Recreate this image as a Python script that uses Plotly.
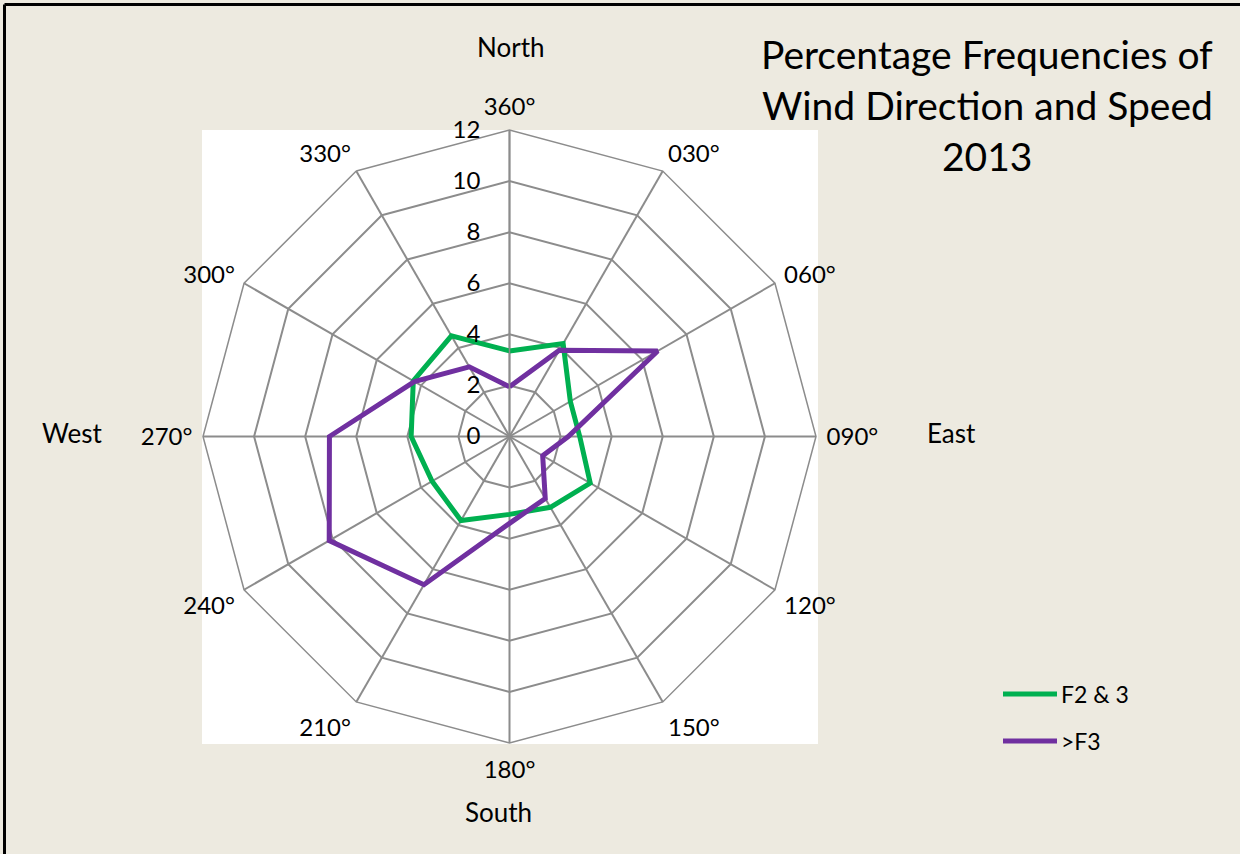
import plotly.graph_objects as go

# --- data ---
directions = ["360°", "030°", "060°", "090°", "120°", "150°",
              "180°", "210°", "240°", "270°", "300°", "330°"]
f2_and_3 = [3.35, 4.2, 2.75, 2.75, 3.65, 3.2, 3.05, 3.8, 3.5, 3.85, 4.35, 4.55]
above_f3 = [1.95, 3.9, 6.7, 2.3, 1.5, 2.8, 3.4, 6.7, 8.15, 7.05, 4.3, 3.15]
radial_ticks = [0, 2, 4, 6, 8, 10, 12]
series_names = ["F2 & 3", ">F3"]
title_lines = ["Percentage Frequencies of", "Wind Direction and Speed", "2013"]
compass = ["North", "East", "South", "West"]

W, H = 1240, 854
BG = "#EDEAE0"
GRID = "#8C8C8C"
GREEN = "#00B050"
PURPLE = "#7030A0"
FONT = "Lato, Carlito, 'Open Sans', sans-serif"

# polar centre / radius in pixels
CX, CY, R = 509.5, 436.5, 306.5


def px(x):
    return x / W


def py(y):
    return 1 - y / H


fig = go.Figure()

series = [(series_names[0], f2_and_3, GREEN), (series_names[1], above_f3, PURPLE)]
for name, vals, color in series:
    fig.add_trace(go.Scatterpolar(
        r=vals + vals[:1],
        theta=directions + directions[:1],
        mode="lines",
        name=name,
        line=dict(color=color, width=5),
        showlegend=False,
        hoverinfo="name+theta+r"
    ))

# compass words around the rose
compass_pos = {
    "North": (510, 47),
    "East": (951, 433),
    "South": (498, 812),
    "West": (72, 433),
}
annotations = []
for word in compass:
    x, y = compass_pos[word]
    annotations.append(dict(
        text=word, x=px(x), y=py(y), xref="paper", yref="paper",
        showarrow=False, xanchor="center", yanchor="middle",
        font=dict(size=26, color="black", family=FONT)
    ))

# title, one annotation per line to match the loose spacing
for i, line in enumerate(title_lines):
    annotations.append(dict(
        text=line, x=px(987), y=py(54 + i * 51), xref="paper", yref="paper",
        showarrow=False, xanchor="center", yanchor="middle",
        font=dict(size=39, color="black", family=FONT)
    ))

shapes = [
    # white plot area behind the rose
    dict(type="rect", xref="paper", yref="paper", layer="below",
         x0=px(202), x1=px(818), y0=py(744), y1=py(130),
         fillcolor="white", line=dict(width=0)),
    # chart frame (left and top edges visible)
    dict(type="line", xref="paper", yref="paper",
         x0=px(4.5), x1=px(4.5), y0=0, y1=py(4.5),
         line=dict(color="black", width=3)),
    dict(type="line", xref="paper", yref="paper",
         x0=px(4.5), x1=1, y0=py(4.5), y1=py(4.5),
         line=dict(color="black", width=3)),
]

# legend drawn Excel-style with long line keys
for i, (name, vals, color) in enumerate(series):
    y = 694 + i * 47
    shapes.append(dict(
        type="line", xref="paper", yref="paper",
        x0=px(1003), x1=px(1057), y0=py(y), y1=py(y),
        line=dict(color=color, width=5)
    ))
    annotations.append(dict(
        text=name, x=px(1059), y=py(y), xref="paper", yref="paper",
        showarrow=False, xanchor="left", yanchor="middle",
        font=dict(size=23, color="black", family=FONT)
    ))

fig.update_layout(
    width=W,
    height=H,
    paper_bgcolor=BG,
    plot_bgcolor=BG,
    margin=dict(l=0, r=0, t=0, b=0),
    font=dict(family=FONT, color="black"),
    polar=dict(
        domain=dict(x=[px(CX - R), px(CX + R)], y=[py(CY + R), py(CY - R)]),
        bgcolor="white",
        gridshape="linear",
        angularaxis=dict(
            type="category",
            categoryorder="array",
            categoryarray=directions,
            rotation=90,
            direction="clockwise",
            showline=True,
            linecolor=GRID,
            linewidth=1.5,
            gridcolor=GRID,
            gridwidth=1.5,
            ticks="outside",
            ticklen=5,
            tickcolor="rgba(0,0,0,0)",
            tickfont=dict(size=24, color="black", family=FONT)
        ),
        radialaxis=dict(
            range=[0, 12],
            tickvals=radial_ticks,
            angle=90,
            side="counterclockwise",
            showline=True,
            linecolor=GRID,
            linewidth=1.5,
            gridcolor=GRID,
            gridwidth=1.5,
            ticks="outside",
            ticklen=20,
            tickcolor="rgba(0,0,0,0)",
            tickangle=90,
            tickfont=dict(size=24, color="black", family=FONT)
        )
    ),
    showlegend=False,
    annotations=annotations,
    shapes=shapes
)

fig.write_html(
    "out.html",
    config={"displayModeBar": False},
    post_script="document.body.style.margin='0';"
)
